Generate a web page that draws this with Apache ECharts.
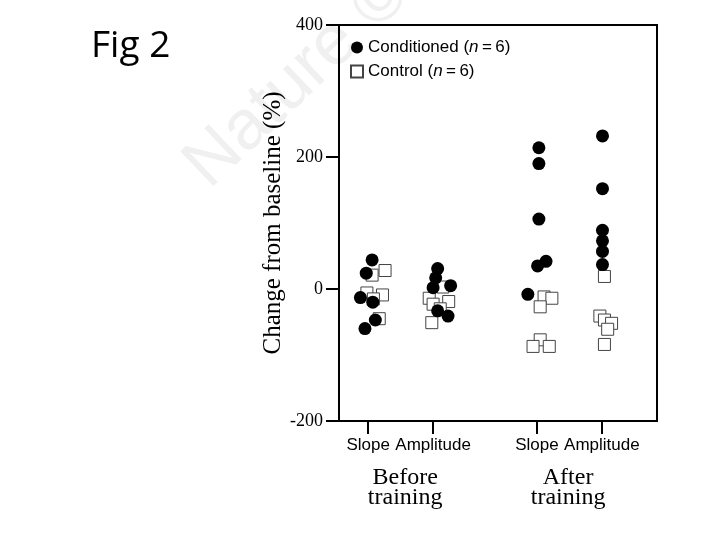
<!DOCTYPE html>
<html>
<head>
<meta charset="utf-8">
<script src="https://cdn.jsdelivr.net/npm/echarts@6/dist/echarts.min.js"></script>
<style>
html,body{margin:0;padding:0;background:#fff;}
#chart{width:720px;height:540px;}
</style>
</head>
<body>
<div id="chart"></div>
<script>
// ---- data ----
const categories = ['Slope', 'Amplitude', 'Slope', 'Amplitude'];
const groupLabels = ['Before\ntraining', 'After\ntraining'];
const yTicks = [-200, 0, 200, 400];
const nConditioned = 6;
const nControl = 6;

// Change from baseline (%) per category (Before Slope, Before Amplitude, After Slope, After Amplitude)
const conditionedValues = [
  [44, 24, -13, -20, -47, -60],
  [31, 17, 2, 5, -33, -41],
  [214, 190, 106, 42, 35, -8],
  [232, 152, 89, 73, 57, 37]
];
const controlValues = [
  [28, 21, -6, -9, -15, -45],
  [3, -14, -23, -19, -51, -30],
  [-12, -14, -27, -77, -87, -87],
  [19, -41, -47, -52, -61, -84]
];
// horizontal scatter (jitter) of each point around its category, in axis units
const conditionedJitter = [
  [0.06, -0.03, -0.12, 0.07, 0.11, -0.05],
  [0.07, 0.04, 0.0, 0.27, 0.07, 0.23],
  [0.03, 0.03, 0.03, 0.14, 0.01, -0.14],
  [0.01, 0.01, 0.01, 0.01, 0.01, 0.01]
];
const controlJitter = [
  [0.26, 0.06, -0.02, 0.22, 0.08, 0.17],
  [0.15, -0.06, 0.0, 0.24, -0.02, 0.11],
  [0.11, 0.23, 0.05, 0.05, -0.06, 0.19],
  [0.04, -0.03, 0.04, 0.15, 0.09, 0.04]
];

// ---- layout (positions on the numeric x axis) ----
const categoryPositions = [1, 2, 3.6, 4.6];
const groupCenters = [1.57, 4.08];
const xMin = 0.55, xMax = 5.45;

function buildPoints(values, jitter) {
  const pts = [];
  values.forEach((arr, g) => {
    arr.forEach((v, i) => pts.push([categoryPositions[g] + jitter[g][i], v]));
  });
  return pts;
}
function labelAt(positions, labels) {
  return function (v) {
    for (let i = 0; i < positions.length; i++) {
      if (Math.abs(positions[i] - v) < 1e-6) return labels[i];
    }
    return '';
  };
}

const chart = echarts.init(document.getElementById('chart'), null, {renderer: 'canvas'});
const option = {
  backgroundColor: '#fff',
  animation: false,
  graphic: [
    {
      type: 'text', x: 196, y: 176, rotation: 0.76, z: -10, silent: true,
      style: {text: 'Nature ©', fontFamily: 'Liberation Sans', fontSize: 70, fill: '#f0f0f0', verticalAlign: 'middle'}
    },
    {
      type: 'text', x: 91, y: 46,
      style: {text: 'Fig 2', fontFamily: 'Open Sans', fontSize: 37, fill: '#000', verticalAlign: 'middle'}
    }
  ],
  grid: {
    left: 339, top: 25, right: 63, bottom: 119,
    show: true, borderColor: '#000', borderWidth: 2, backgroundColor: 'transparent',
    containLabel: false, outerBoundsMode: 'none'
  },
  legend: {
    orient: 'vertical', left: 345, top: 34,
    itemWidth: 12, itemHeight: 12, itemGap: 7,
    data: ['Conditioned', 'Control'],
    formatter: function (name) {
      const n = name === 'Conditioned' ? nConditioned : nControl;
      return '{a|' + name + ' (}{i|n}{a|\u2009=\u2009' + n + ')}';
    },
    textStyle: {
      color: '#000', fontFamily: 'Liberation Sans', fontSize: 17,
      rich: {
        a: {fontFamily: 'Liberation Sans', fontSize: 17, color: '#000', lineHeight: 17},
        i: {fontFamily: 'Liberation Sans', fontSize: 17, fontStyle: 'italic', color: '#000', lineHeight: 17}
      }
    }
  },
  xAxis: [
    {
      type: 'value', min: xMin, max: xMax, position: 'bottom',
      axisLine: {show: true, onZero: false, lineStyle: {color: '#000', width: 2}},
      axisTick: {show: true, customValues: categoryPositions, length: 13, lineStyle: {color: '#000', width: 2}},
      axisLabel: {
        show: true, customValues: categoryPositions, formatter: labelAt(categoryPositions, categories),
        fontFamily: 'Liberation Sans', fontSize: 17, color: '#000', margin: 16
      },
      splitLine: {show: false}
    },
    {
      type: 'value', min: xMin, max: xMax, position: 'bottom',
      axisLine: {show: false}, axisTick: {show: false},
      axisLabel: {
        show: true, customValues: groupCenters, formatter: labelAt(groupCenters, groupLabels),
        fontFamily: 'Liberation Serif', fontSize: 24, lineHeight: 20, color: '#000', margin: 47
      },
      splitLine: {show: false}
    }
  ],
  yAxis: {
    type: 'value', min: yTicks[0], max: yTicks[yTicks.length - 1], interval: 200,
    axisLine: {show: true, onZero: false, lineStyle: {color: '#000', width: 2}},
    axisTick: {show: true, length: 13, lineStyle: {color: '#000', width: 2}},
    axisLabel: {fontFamily: 'Liberation Serif', fontSize: 18, color: '#000', margin: 16},
    splitLine: {show: false},
    name: 'Change from baseline (%)',
    nameLocation: 'middle', nameGap: 48,
    nameTextStyle: {fontFamily: 'Liberation Serif', fontSize: 25, color: '#000'}
  },
  series: [
    {
      name: 'Control', type: 'scatter', xAxisIndex: 0,
      symbol: 'rect', symbolSize: 12,
      itemStyle: {color: '#fff', borderColor: '#444', borderWidth: 1, opacity: 1},
      data: buildPoints(controlValues, controlJitter), z: 2
    },
    {
      name: 'Conditioned', type: 'scatter', xAxisIndex: 0,
      symbol: 'circle', symbolSize: 13,
      itemStyle: {color: '#000', opacity: 1},
      data: buildPoints(conditionedValues, conditionedJitter), z: 3
    }
  ]
};
chart.setOption(option);
</script>
</body>
</html>
